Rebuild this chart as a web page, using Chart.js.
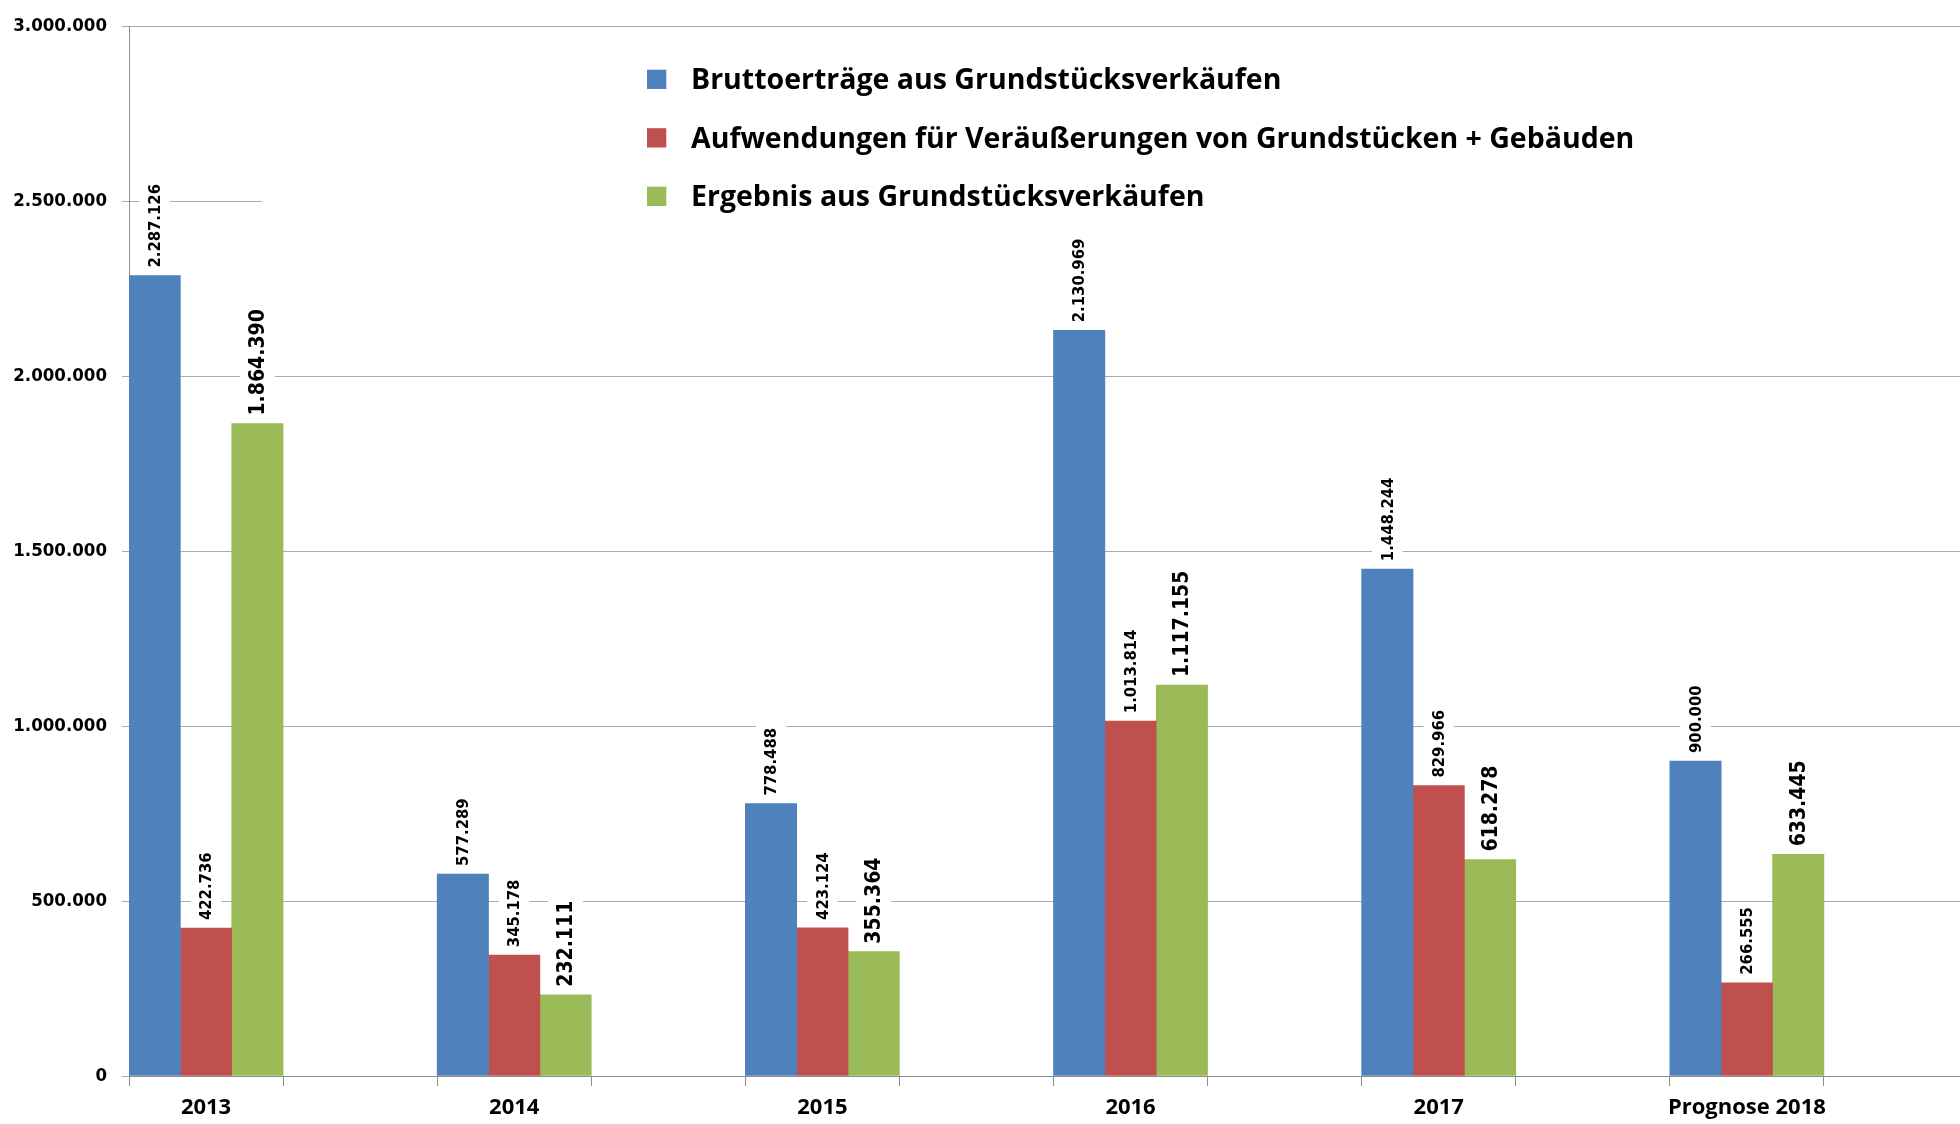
<!DOCTYPE html>
<html lang="de">
<head>
<meta charset="utf-8">
<title>Grundstücksverkäufe</title>
<script src="https://cdn.jsdelivr.net/npm/chart.js@4/dist/chart.umd.min.js"></script>
<style>
  html, body { margin: 0; padding: 0; background: #fff; overflow: hidden; }
  #wrap { position: relative; width: 1978px; height: 1124px; }
</style>
</head>
<body>
<div id="wrap"><canvas id="c"></canvas></div>
<script>
// ---- data ----
const categories = ['2013', '2014', '2015', '2016', '2017', 'Prognose 2018'];
const seriesNames = [
  'Bruttoerträge aus Grundstücksverkäufen',
  'Aufwendungen für Veräußerungen von Grundstücken + Gebäuden',
  'Ergebnis aus Grundstücksverkäufen'
];
const bruttoertraege = [2287126, 577289, 778488, 2130969, 1448244, 900000];
const aufwendungen   = [422736, 345178, 423124, 1013814, 829966, 266555];
const ergebnis       = [1864390, 232111, 355364, 1117155, 618278, 633445];
const yTickValues    = [0, 500000, 1000000, 1500000, 2000000, 2500000, 3000000];
const seriesColors   = ['#4F81BD', '#C0504D', '#9BBB59'];

function fmt(n) { return String(n).replace(/\B(?=(\d{3})+(?!\d))/g, '.'); }

// each category occupies two slots: the bar group and an empty gap slot
const slotLabels = categories.flatMap(c => [c, '']);
const toSlots = arr => arr.flatMap(v => [v, null]);

const LEGEND_FONT = "bold 28.5px 'Open Sans', Lato, sans-serif";
const NUM_FAMILY = "'DejaVu Sans Condensed', 'DejaVu Sans', sans-serif";

const legendPlugin = {
  id: 'boxLegend',
  beforeDatasetsDraw(chart) {
    const ctx = chart.ctx;
    ctx.save();
    ctx.fillStyle = '#fff';
    ctx.fillRect(262, 32, chart.width - 262, 198);
    ctx.font = LEGEND_FONT;
    ctx.textBaseline = 'alphabetic';
    ctx.textAlign = 'left';
    chart.data.datasets.forEach((ds, i) => {
      const base = 89 + i * 58.5;
      ctx.fillStyle = ds.backgroundColor;
      ctx.fillRect(647, base - 19.3, 19.3, 19.3);
      ctx.fillStyle = '#000';
      ctx.fillText(ds.label, 691, base);
    });
    ctx.restore();
  }
};

const labelPlugin = {
  id: 'barLabels',
  afterDatasetsDraw(chart) {
    const ctx = chart.ctx;
    chart.data.datasets.forEach((ds, di) => {
      const meta = chart.getDatasetMeta(di);
      const size = di === 2 ? 21 : 16.5;
      ctx.save();
      ctx.font = `bold ${size}px ${NUM_FAMILY}`;
      meta.data.forEach((el, i) => {
        const v = ds.data[i];
        if (v == null) return;
        const txt = fmt(v);
        const w = ctx.measureText(txt).width;
        ctx.save();
        ctx.translate(el.x, el.y - 8);
        ctx.rotate(-Math.PI / 2);
        ctx.fillStyle = '#fff';
        ctx.fillRect(-2, -size / 2 - 7, w + 6, size + 14);
        ctx.fillStyle = '#000';
        ctx.textAlign = 'left';
        ctx.textBaseline = 'middle';
        ctx.fillText(txt, 0, 1);
        ctx.restore();
      });
      ctx.restore();
    });
  }
};

const datasets = [bruttoertraege, aufwendungen, ergebnis].map((arr, i) => ({
  label: seriesNames[i],
  data: toSlots(arr),
  backgroundColor: seriesColors[i],
  borderWidth: 0,
  categoryPercentage: 1,
  barPercentage: 1
}));

new Chart(document.getElementById('c'), {
  type: 'bar',
  data: { labels: slotLabels, datasets },
  options: {
    responsive: true,
    maintainAspectRatio: false,
    animation: false,
    layout: { padding: { top: 21, left: 0, right: 0, bottom: 0 } },
    plugins: { legend: { display: false }, tooltip: { enabled: false } },
    scales: {
      x: {
        offset: true,
        grid: { display: true, drawOnChartArea: false, drawTicks: true, tickLength: 10, color: '#8C8C8C', offset: true },
        border: { color: '#8C8C8C', width: 1 },
        ticks: { autoSkip: false, maxRotation: 0, minRotation: 0, padding: 9, color: '#000',
                 font: { family: "'Open Sans', Lato, sans-serif", weight: 'bold', size: 22 } },
        afterFit(s) { s.height = 48; }
      },
      y: {
        min: yTickValues[0],
        max: yTickValues[yTickValues.length - 1],
        afterBuildTicks(s) { s.ticks = yTickValues.map(v => ({ value: v })); },
        grid: { color: '#ABABAB', lineWidth: 1, tickLength: 7, drawTicks: true },
        border: { color: '#8C8C8C', width: 1 },
        ticks: { padding: 15, color: '#000', callback: v => fmt(v),
                 font: { family: NUM_FAMILY, weight: 'bold', size: 18.5 } },
        afterFit(s) { s.width = 129; }
      }
    }
  },
  plugins: [legendPlugin, labelPlugin]
});
</script>
</body>
</html>
